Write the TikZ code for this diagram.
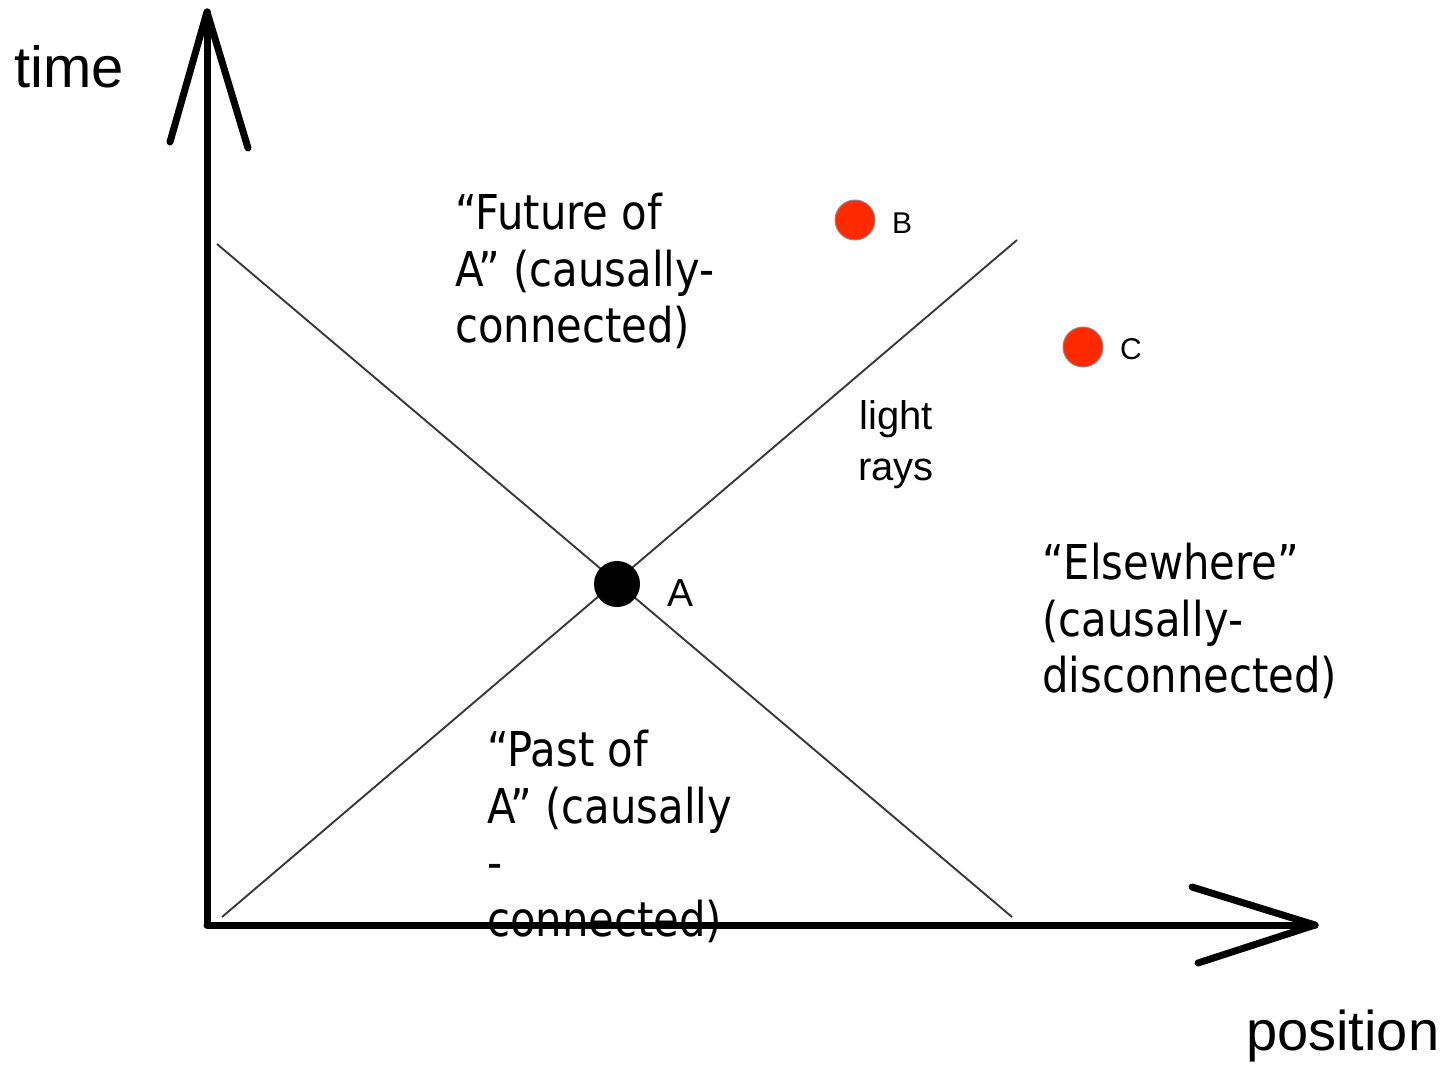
\documentclass[tikz,border=0pt]{standalone}
\usepackage{fontspec}
\setmainfont{Liberation Sans}
\newfontfamily\tah[FakeStretch=0.87]{DejaVu Sans}
\definecolor{dotred}{HTML}{FF2A00}
\begin{document}
\begin{tikzpicture}[x=1pt,y=-1pt,
  axis/.style={line width=7pt,line cap=round,line join=round},
  ray/.style={line width=1.9pt,draw=black!78},
  bigtext/.style={inner sep=0pt,anchor=north west,align=left,font=\tah\fontsize{48}{56.5}\selectfont},
  reddot/.style={circle,fill=dotred,draw=black!45,line width=1pt,minimum size=40pt,inner sep=0pt},
  lab/.style={inner sep=0pt,anchor=base west}]
\useasboundingbox (0,0) rectangle (1453,1065);
% axes
\coordinate (O) at (207,925);
\coordinate (T) at (207,12);
\coordinate (P) at (1315,925);
\coordinate (Tl) at (170,142);
\coordinate (Tr) at (248,148);
\coordinate (Pu) at (1192,887);
\coordinate (Pd) at (1198,963);
\draw[axis] (O) -- (T);
\draw[axis] (O) -- (P);
\draw[axis] (Tl) -- (T) -- (Tr);
\draw[axis] (Pu) -- (P) -- (Pd);
% light rays
\coordinate (R1a) at (217,244);
\coordinate (R1b) at (1012,917);
\coordinate (R2a) at (222,917);
\coordinate (R2b) at (1017,240);
\draw[ray] (R1a) -- (R1b);
\draw[ray] (R2a) -- (R2b);
% events
\node[circle,fill=black,minimum size=46pt,inner sep=0pt] (A) at (617,584) {};
\node[reddot] (B) at (855,220) {};
\node[reddot] (C) at (1083,347) {};
\node[lab,font=\fontsize{39}{40}\selectfont] (Al) at (667,606) {A};
\node[lab,font=\fontsize{30}{32}\selectfont] (Bl) at (892,233) {B};
\node[lab,font=\fontsize{30}{32}\selectfont] (Cl) at (1120,359) {C};
% axis labels
\node[lab,font=\fontsize{58}{60}\selectfont] (time) at (14,88) {time};
\node[lab,font=\fontsize{56}{58}\selectfont] (pos) at (1246,1050) {position};
\node[inner sep=0pt,align=center,font=\fontsize{40}{51}\selectfont] (light) at (896,445) {light\\rays};
% region texts
\node[bigtext] (fut) at (455,193) {“Future of\\A” (causally-\\connected)};
\node[bigtext] (else) at (1042,543) {“Elsewhere”\\(causally-\\disconnected)};
\node[bigtext] (past) at (487,730) {“Past of\\A” (causally\\-\\connected)};
\end{tikzpicture}
\end{document}
